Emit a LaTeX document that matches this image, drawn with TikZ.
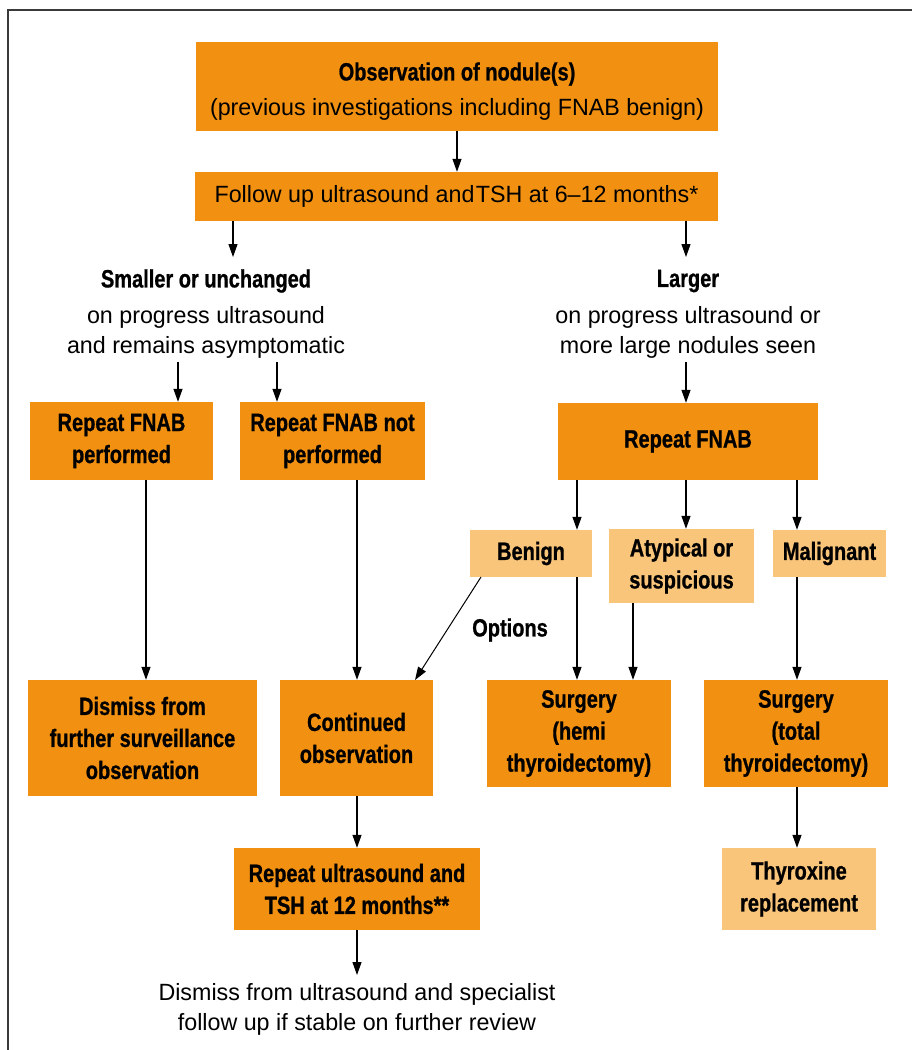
\documentclass[tikz,border=0pt]{standalone}
\usepackage{fontspec}
\setmainfont[FakeStretch=0.99]{Liberation Sans}
\newfontfamily\bfc[FakeStretch=0.80,FakeBold=0.8]{Liberation Sans}
\usetikzlibrary{arrows.meta}
\definecolor{dorange}{HTML}{F29111}
\definecolor{lorange}{HTML}{F9C57A}
\definecolor{framegray}{HTML}{3A3A3A}
\tikzset{
  box/.style={fill=dorange, inner sep=0pt, align=center, font=\bfc\bfseries\fontsize{25}{32}\selectfont},
  lbox/.style={box, fill=lorange},
  txt/.style={inner sep=0pt, align=center, font=\fontsize{23.5}{30}\selectfont},
  btxt/.style={inner sep=0pt, align=center, font=\bfc\bfseries\fontsize{25}{32}\selectfont},
  arr/.style={line width=1.2pt, -{Triangle[length=13pt,width=9pt]}},
  frame/.style={line width=1.6pt, draw=framegray},
}
\begin{document}
\begin{tikzpicture}[x=1pt,y=-1pt]
\useasboundingbox (0,0) rectangle (912,1050);
\draw[frame] (8,1050) -- (8,10) -- (912,10);

% boxes
\node[box, minimum width=522pt, minimum height=89pt] (obs) at (457,86.5) {};
\node[btxt] (obst) at (457,74) {Observation of nodule(s)};
\node[txt] (obss) at (457,109) {(previous investigations including FNAB benign)};
\node[box, minimum width=523pt, minimum height=49pt, font=\fontsize{23.5}{30}\selectfont] (follow) at (456.5,196.5)
  {Follow up ultrasound and\hspace{1.5pt}TSH at 6--12 months*};

\node[btxt] (smt) at (206,281) {Smaller or unchanged};
\node[txt] (sms) at (206,332) {on progress ultrasound\\and remains asymptomatic};
\node[btxt] (lgt) at (688,281) {Larger};
\node[txt] (lgs) at (688,332) {on progress ultrasound or\\more large nodules seen};

\node[box, minimum width=183pt, minimum height=78pt] (rfp) at (121.5,441) {Repeat FNAB\\performed};
\node[box, minimum width=185pt, minimum height=78pt] (rfnp) at (332.5,441) {Repeat FNAB not\\performed};
\node[box, minimum width=260pt, minimum height=77pt] (rfnab) at (688,441.5) {Repeat FNAB};

\node[lbox, minimum width=122pt, minimum height=47pt] (benign) at (531,553.5) {Benign};
\node[lbox, minimum width=145pt, minimum height=74pt] (atyp) at (681.5,566) {Atypical or\\suspicious};
\node[lbox, minimum width=113pt, minimum height=47pt] (malig) at (829.5,553.5) {Malignant};

\node[btxt] (opt) at (510,630) {Options};

\node[box, minimum width=229pt, minimum height=116pt] (dismiss) at (142.5,738) {Dismiss from\\further surveillance\\observation};
\node[box, minimum width=153pt, minimum height=116pt] (cont) at (356.5,738) {Continued\\observation};
\node[box, minimum width=184pt, minimum height=107pt] (shemi) at (579,733.5) {Surgery\\(hemi\\thyroidectomy)};
\node[box, minimum width=184pt, minimum height=107pt] (stotal) at (796,733.5) {Surgery\\(total\\thyroidectomy)};

\node[box, minimum width=246pt, minimum height=82pt] (repus) at (357,889) {Repeat ultrasound and\\TSH at 12 months**};
\node[lbox, minimum width=154pt, minimum height=82pt] (thyrox) at (799,889) {Thyroxine\\replacement};

\node[txt] (final) at (357,1009) {Dismiss from ultrasound and specialist\\follow up if stable on further review};

% helper coordinates
\coordinate (xa) at (233,257);
\coordinate (xb) at (686,257);
\coordinate (xc) at (178,362);
\coordinate (xd) at (277,362);
\coordinate (xe) at (686,362);
\coordinate (xf) at (577,0);
\coordinate (xg) at (686,0);
\coordinate (xh) at (797,0);
\coordinate (xi) at (146,0);
\coordinate (xj) at (357,0);
\coordinate (xk) at (633,0);
\coordinate (bstart) at (481,577);
\coordinate (bend) at (415,680);
\coordinate (xl) at (357,975);

% connectors
\draw[arr] (obs.south) -- (follow.north -| obs.south);
\draw[arr] (follow.south -| xa) -- (xa);
\draw[arr] (follow.south -| xb) -- (xb);
\draw[arr] (xc) -- (rfp.north -| xc);
\draw[arr] (xd) -- (rfnp.north -| xd);
\draw[arr] (xe) -- (rfnab.north -| xe);
\draw[arr] (rfnab.south -| xf) -- (benign.north -| xf);
\draw[arr] (rfnab.south -| xg) -- (atyp.north -| xg);
\draw[arr] (rfnab.south -| xh) -- (malig.north -| xh);
\draw[arr] (rfp.south -| xi) -- (dismiss.north -| xi);
\draw[arr] (rfnp.south -| xj) -- (cont.north -| xj);
\draw[arr, line width=1pt] (bstart) -- (bend);
\draw[arr] (benign.south -| xf) -- (shemi.north -| xf);
\draw[arr] (atyp.south -| xk) -- (shemi.north -| xk);
\draw[arr] (malig.south -| xh) -- (stotal.north -| xh);
\draw[arr] (cont.south -| xj) -- (repus.north -| xj);
\draw[arr] (stotal.south -| xh) -- (thyrox.north -| xh);
\draw[arr] (repus.south -| xl) -- (xl);
\end{tikzpicture}
\end{document}
